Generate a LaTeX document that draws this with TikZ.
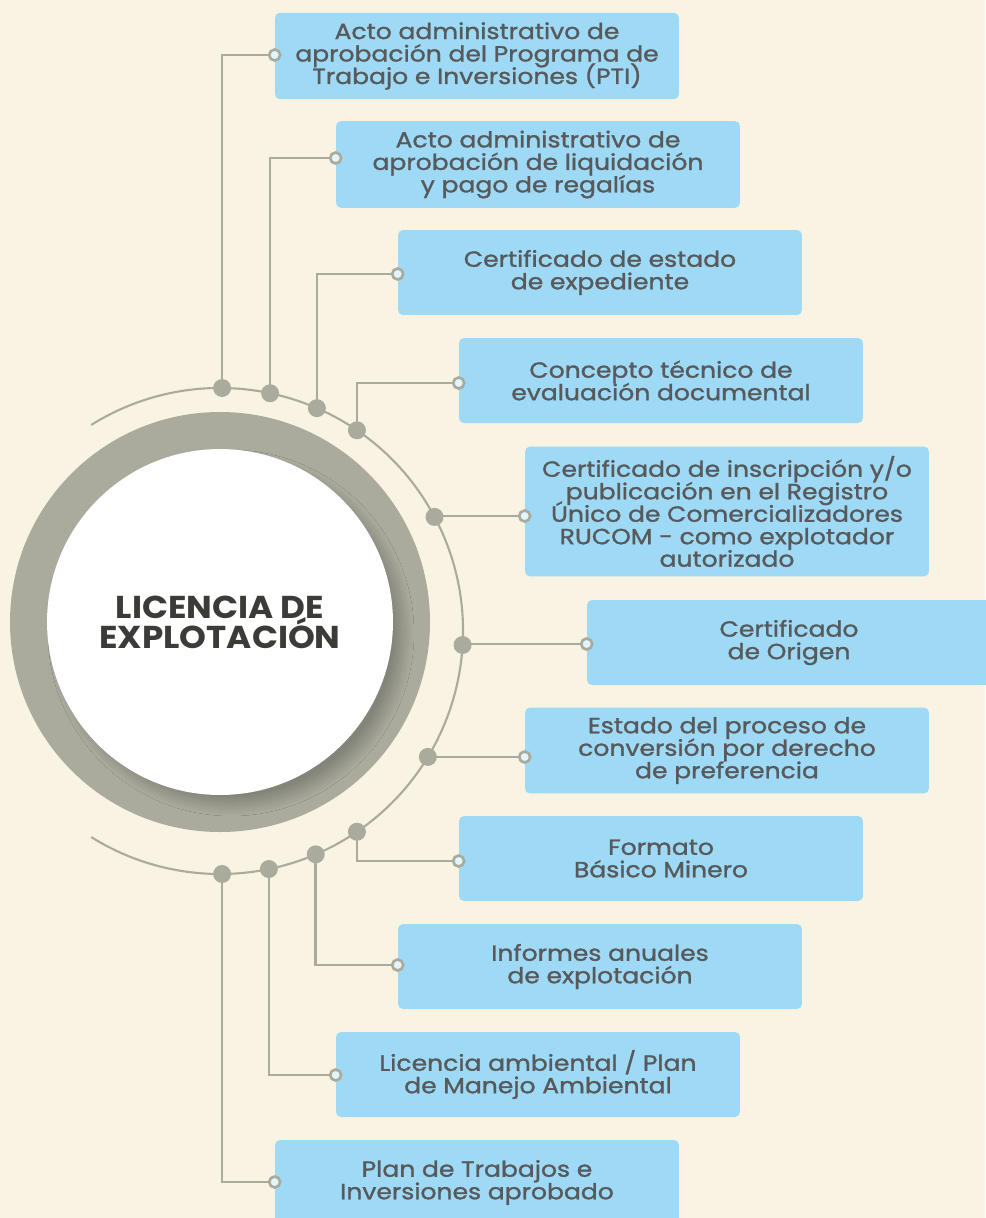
\documentclass[tikz,border=0pt]{standalone}
\usepackage{fontspec}
\setmainfont{Poppins}
\newfontfamily\cajafont{Poppins}[FakeBold=1.2, FakeStretch=1.14]
\newfontfamily\titfont{Poppins}[FakeStretch=1.08]
\usepackage{xcolor}
\usetikzlibrary{positioning, calc, shadows.blur}
\definecolor{fondo}{HTML}{F8F3E2}
\definecolor{celeste}{HTML}{9ED9F5}
\definecolor{gris}{HTML}{AAAB9D}
\definecolor{texto}{HTML}{58595B}
\definecolor{titulo}{HTML}{3B3C37}
\newcommand{\apretado}{\lineskiplimit=-8pt\relax}

\begin{document}
\begin{tikzpicture}[x=0.02cm,y=0.02cm,
    caja/.style={fill=celeste, rounded corners=0.1cm, minimum width=8.08cm,
      minimum height=1.7cm, inner xsep=0pt, inner ysep=0.19cm, align=center,
      text=texto, font=\cajafont\fontsize{12.5}{12.8}\selectfont\apretado},
    enlace/.style={draw=gris, line width=1.4pt},
    punto/.style={circle, fill=gris, inner sep=0pt, minimum size=0.36cm},
    puerto/.style={circle, draw=gris, fill=celeste!30!white, line width=1.5pt,
      inner sep=0pt, minimum size=0.22cm}]
  \def\R{243}
  \useasboundingbox (0,0) rectangle (985,-1218);
  \fill[fondo] (0,0) rectangle (985,-1218);
  \coordinate (C) at (220,-622);
  \coordinate (A) at (220,-631);

  % anillo y arco
  \fill[gris] (C) circle (210);
  \draw[gris, line width=1.2pt] ($(A)+(122:\R)$) arc (122:-122:\R);
  \begin{scope}
    \clip (C) circle (210);
    \node[circle, fill=white, minimum size=6.92cm, inner sep=0pt, align=center,
      text=titulo, font=\titfont\bfseries\fontsize{18}{17}\selectfont\apretado,
      blur shadow={shadow xshift=0.22cm, shadow yshift=-0.22cm,
        shadow blur radius=0.2cm, shadow blur steps=30, shadow opacity=22}]
      (centro) at (C) {LICENCIA DE\\EXPLOTACIÓN};
  \end{scope}

  \foreach \n/\ang/\bx/\by/\py/\txt in {
    1/89.5/477/56/55/{Acto administrativo de\\aprobación del Programa de\\Trabajo e Inversiones (PTI)},
    2/78.1/538/164.5/158/{Acto administrativo de\\aprobación de liquidación\\y pago de regalías},
    3/66.5/600/272.5/274/{Certificado de estado\\de expediente},
    4/55.7/661/380.5/383/{Concepto técnico de\\evaluación documental},
    5/28/727/511.5/516/{Certificado de inscripción y/o\\publicación en el Registro\\Único de Comercializadores\\RUCOM - como explotador\\autorizado},
    6/-3.3/789/642.5/644/{Certificado\\de Origen},
    7/-31.2/727/750.5/757/{Estado del proceso de\\conversión por derecho\\de preferencia},
    8/-55.7/661/858.5/861/{Formato\\Básico Minero},
    9/-66.8/600/966.5/965/{Informes anuales\\de explotación},
    10/-78.4/538/1074.5/1075/{Licencia ambiental / Plan\\de Manejo Ambiental},
    11/-89.5/477/1182.5/1182/{Plan de Trabajos e\\Inversiones aprobado}}{
    \node[caja] (caja\n) at (\bx,-\by) {\txt};
    \node[punto] (punto\n) at ($(A)+(\ang:\R)$) {};
    \draw[enlace] (punto\n.center) |- (caja\n.west |- 0,-\py) coordinate (fin\n);
    \node[puerto] (puerto\n) at (fin\n) {};
  }
\end{tikzpicture}
\end{document}
